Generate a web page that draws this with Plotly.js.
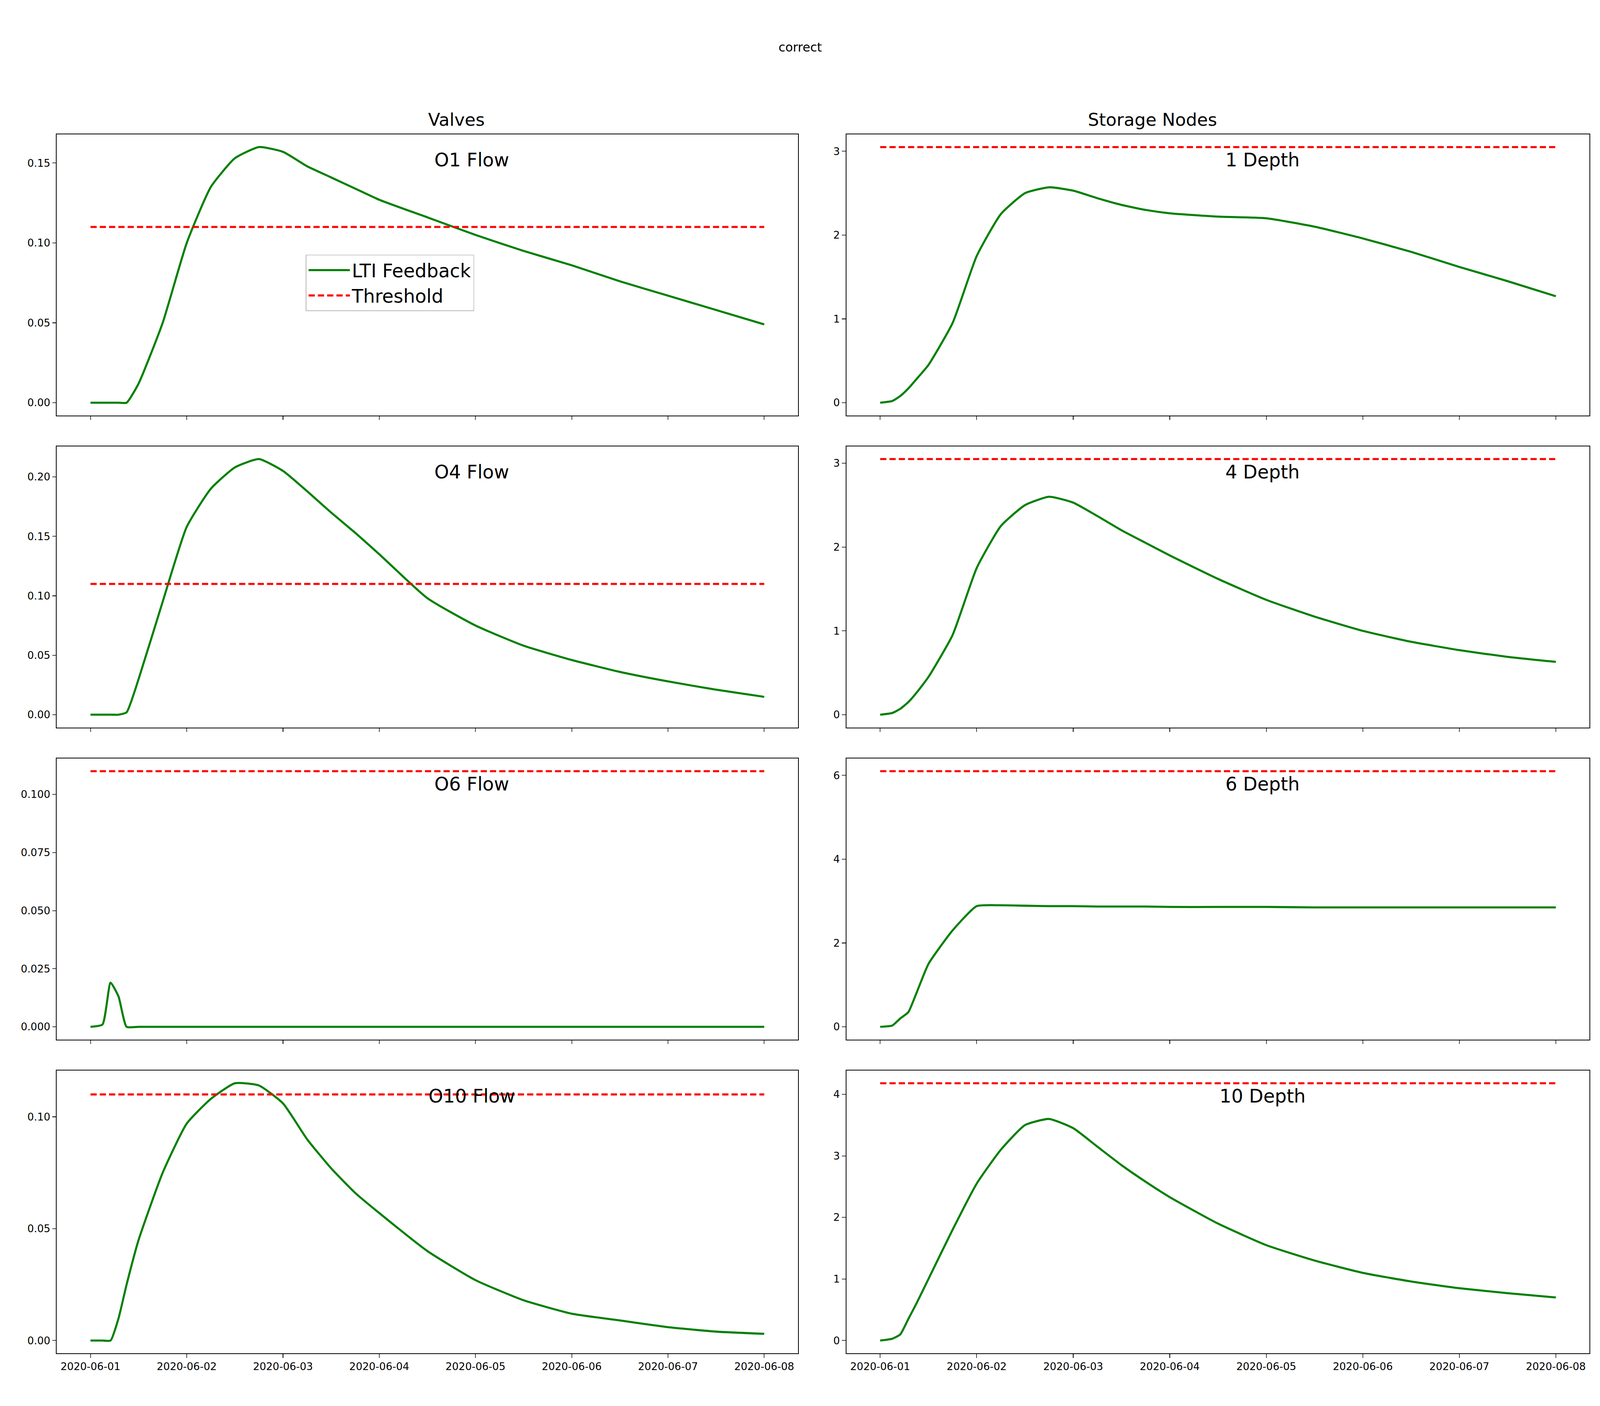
<!DOCTYPE html>
<html>
<head>
<meta charset="utf-8">
<script src="https://cdn.plot.ly/plotly-3.0.1.min.js"></script>
<style>html,body{margin:0;padding:0;background:#fff;overflow:hidden}#plot{width:100vw;height:100vh}</style>
</head>
<body>
<div id="plot"></div>
<script>
// hours since 2020-06-01 00:00
var hours = [0,3,5,7,9,12,18,24,30,36,42,48,54,60,66,72,84,96,108,120,132,144,156,168];

var o1Flow  = [0,0,0,0,0,0.012,0.05,0.10,0.135,0.153,0.16,0.157,0.148,0.141,0.134,0.127,0.116,0.105,0.095,0.086,0.076,0.067,0.058,0.049];
var o4Flow  = [0,0,0,0,0.002,0.03,0.095,0.158,0.19,0.208,0.215,0.205,0.188,0.17,0.153,0.135,0.098,0.075,0.058,0.046,0.036,0.028,0.021,0.015];
var o6Flow  = [0,0.001,0.019,0.013,0,0,0,0,0,0,0,0,0,0,0,0,0,0,0,0,0,0,0,0];
var o10Flow = [0,0,0,0.01,0.025,0.045,0.075,0.097,0.108,0.115,0.114,0.106,0.09,0.077,0.066,0.057,0.04,0.027,0.018,0.012,0.009,0.006,0.004,0.003];

var depth1  = [0,0.02,0.08,0.17,0.28,0.45,0.95,1.75,2.25,2.5,2.57,2.53,2.44,2.36,2.3,2.26,2.22,2.2,2.1,1.96,1.8,1.62,1.45,1.27];
var depth4  = [0,0.02,0.07,0.15,0.26,0.45,0.95,1.75,2.25,2.5,2.6,2.53,2.37,2.2,2.05,1.9,1.62,1.37,1.17,1.0,0.87,0.77,0.69,0.63];
var depth6  = [0,0.03,0.2,0.35,0.8,1.5,2.3,2.88,2.9,2.89,2.88,2.88,2.87,2.87,2.87,2.86,2.86,2.86,2.85,2.85,2.85,2.85,2.85,2.85];
var depth10 = [0,0.03,0.1,0.35,0.6,1.0,1.8,2.55,3.1,3.5,3.6,3.45,3.15,2.85,2.58,2.33,1.9,1.55,1.3,1.1,0.96,0.85,0.77,0.7];

var labels = ["O1 Flow","O4 Flow","O6 Flow","O10 Flow","1 Depth","4 Depth","6 Depth","10 Depth"];
var series = [o1Flow,o4Flow,o6Flow,o10Flow,depth1,depth4,depth6,depth10];
var thresholds = [0.11,0.11,0.11,0.11,3.05,3.05,6.1,4.18];
var yDtick = [0.05,0.05,0.025,0.05,1,1,2,1];
var yFormat = [".2f",".2f",".3f",".2f","d","d","d","d"];

function toDate(h) {
  var d = new Date(Date.UTC(2020,5,1) + h*3600000);
  return d.toISOString().slice(0,19).replace("T"," ");
}
var times = hours.map(toDate);
var tEnds = [times[0], times[times.length-1]];

var rowDomains = [[0.7045,0.9045],[0.4826,0.6826],[0.2606,0.4606],[0.0374,0.2387]];
var colDomains = [[0.0355,0.4987],[0.529,0.9935]];
var W = window.innerWidth, H = window.innerHeight;
var S = W / 1550;

var traces = [];
var layout = {
  width: W, height: H,
  paper_bgcolor: "white", plot_bgcolor: "white",
  margin: {l:0,r:0,t:0,b:0},
  font: {family: "DejaVu Sans", size: 10*S, color: "black"},
  showlegend: true,
  legend: {x: 0.191, y: 0.819, xanchor: "left", yanchor: "top", itemwidth: 40*S,
           bgcolor: "rgba(255,255,255,0.8)", bordercolor: "#cccccc", borderwidth: 1*S,
           font: {size: 18*S}},
  annotations: [
    {text: "correct", x: 0.5, y: 0.972, xref: "paper", yref: "paper", showarrow: false, font: {size: 12*S}},
    {text: "Valves", x: 0.2671, y: 0.907, xref: "paper", yref: "paper", yanchor: "bottom", showarrow: false, font: {size: 17*S}},
    {text: "Storage Nodes", x: 0.7612, y: 0.907, xref: "paper", yref: "paper", yanchor: "bottom", showarrow: false, font: {size: 17*S}}
  ]
};

for (var i = 0; i < 8; i++) {
  var n = i + 1;
  var col = i < 4 ? 0 : 1, row = i % 4;
  var xa = "x" + n, ya = "y" + n;
  traces.push({x: times, y: series[i], xaxis: xa, yaxis: ya, type: "scatter", mode: "lines",
    name: "LTI Feedback", showlegend: i === 0, line: {color: "green", width: 2*S, shape: "spline", smoothing: 0.5}});
  traces.push({x: tEnds, y: [thresholds[i], thresholds[i]], xaxis: xa, yaxis: ya, type: "scatter", mode: "lines",
    name: "Threshold", showlegend: i === 0, line: {color: "red", width: 2*S, dash: (6*S)+"px,"+(3*S)+"px"}});
  var lo = Math.min(0, Math.min.apply(null, series[i]));
  var hi = Math.max(thresholds[i], Math.max.apply(null, series[i]));
  var pad = (hi - lo) * 0.05;
  layout["xaxis" + n] = {domain: colDomains[col], anchor: ya, type: "date",
    range: ["2020-05-31 15:36", "2020-06-08 08:24"], dtick: 86400000, tick0: "2020-06-01",
    tickformat: "%Y-%m-%d", showticklabels: row === 3, showgrid: false, zeroline: false,
    showline: true, mirror: true, linecolor: "black", linewidth: 0.8*S,
    ticks: "outside", ticklen: 3.5*S, tickwidth: 0.8*S, tickfont: {size: 10*S}};
  layout["yaxis" + n] = {domain: rowDomains[row], anchor: xa, range: [lo - pad, hi + pad],
    dtick: yDtick[i], tick0: 0, tickformat: yFormat[i], showgrid: false, zeroline: false,
    showline: true, mirror: true, linecolor: "black", linewidth: 0.8*S,
    ticks: "outside", ticklen: 3.5*S, tickwidth: 0.8*S, tickfont: {size: 10*S}};
  layout.annotations.push({text: labels[i], xref: xa + " domain", yref: ya + " domain",
    x: 0.56, y: 0.95, xanchor: "center", yanchor: "top", showarrow: false, font: {size: 18*S}});
}

Plotly.newPlot("plot", traces, layout, {staticPlot: true});
</script>
</body>
</html>
